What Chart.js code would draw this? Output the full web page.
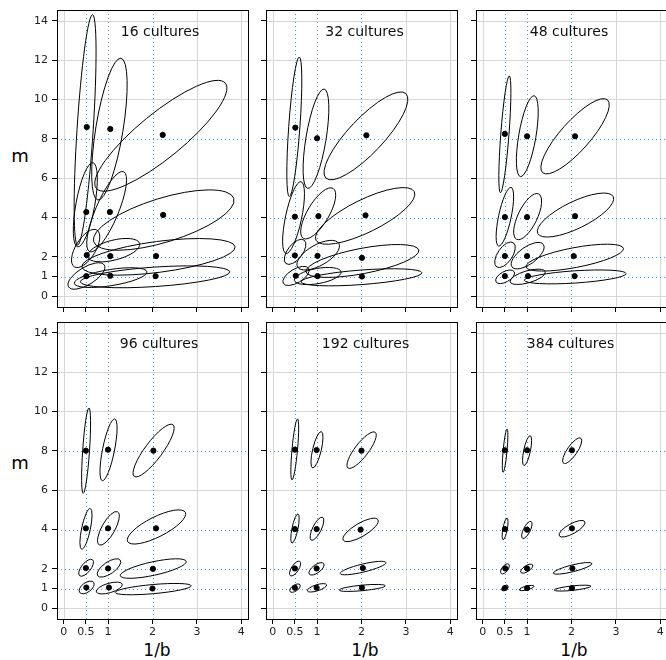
<!DOCTYPE html>
<html>
<head>
<meta charset="utf-8">
<script src="https://cdn.jsdelivr.net/npm/chart.js@4.4.0/dist/chart.umd.min.js"></script>
<style>
body { margin: 0; background: #fff; width: 666px; height: 660px; overflow: hidden; position: relative; font-family: "DejaVu Sans", sans-serif; }
canvas { position: absolute; }
.lab { position: absolute; color: #000; transform: translate(-50%, -50%); white-space: nowrap; }
</style>
</head>
<body>
<div class="lab" style="left:20px;top:155px;font-size:18px">m</div>
<div class="lab" style="left:20px;top:462px;font-size:18px">m</div>
<div class="lab" style="left:157px;top:650px;font-size:17px">1/b</div>
<div class="lab" style="left:365px;top:650px;font-size:17px">1/b</div>
<div class="lab" style="left:574px;top:650px;font-size:17px">1/b</div>
<script>
const cultures = [16, 32, 48, 96, 192, 384];
const xTicks = [0, 0.5, 1, 2, 3, 4];
const yTicks = [0, 1, 2, 4, 6, 8, 10, 12, 14];
const trueInvB = [0.5, 1, 2];
const trueM = [1, 2, 4, 8];

// estimates, order: m=8 (1/b .5, 1, 2), m=4, m=2, m=1
const est16 = [[0.52, 8.6], [1.05, 8.5], [2.23, 8.2], [0.51, 4.28], [1.04, 4.28], [2.24, 4.13],
  [0.52, 2.09], [1.05, 2.04], [2.08, 2.04], [0.51, 1.02], [1.05, 1.04], [2.07, 1.02]];
const est32 = [[0.51, 8.57], [1.0, 8.03], [2.11, 8.18], [0.5, 4.04], [1.03, 4.07], [2.09, 4.11],
  [0.5, 2.07], [1.01, 2.05], [2.01, 1.95], [0.52, 1.04], [1.01, 1.02], [2.01, 1.0]];
const est48 = [[0.5, 8.25], [1.0, 8.13], [2.08, 8.13], [0.5, 4.02], [1.0, 4.02], [2.08, 4.07],
  [0.5, 2.04], [1.0, 2.04], [2.05, 2.04], [0.5, 1.02], [1.02, 1.02], [2.07, 1.02]];
const est96 = [[0.5, 8.01], [1.0, 8.06], [2.02, 8.01], [0.5, 4.06], [1.0, 4.06], [2.08, 4.06],
  [0.5, 2.04], [1.0, 2.02], [2.01, 2.0], [0.51, 1.05], [1.02, 1.05], [2.0, 1.0]];
const est192 = [[0.5, 8.06], [0.99, 8.04], [2.0, 8.01], [0.5, 4.02], [0.99, 4.02], [1.98, 3.99],
  [0.5, 2.02], [0.99, 2.02], [2.03, 2.04], [0.5, 1.04], [0.99, 1.04], [2.01, 1.04]];
const est384 = [[0.5, 8.03], [1.0, 8.03], [2.01, 8.03], [0.5, 4.02], [1.0, 3.99], [2.01, 4.06],
  [0.51, 2.02], [1.0, 2.02], [2.02, 2.02], [0.5, 1.02], [1.0, 1.02], [2.01, 1.02]];

// confidence ellipses: major axis tip 1 (x, m), tip 2 (x, m), minor/major ratio
const ell16 = [[0.65, 14.31, 0.315, 2.6, 0.07], [1.29, 12.1, 0.77, 4.89, 0.19], [3.64, 10.83, 0.735, 5.48, 0.27],
  [0.66, 6.79, 0.315, 2.51, 0.22], [1.35, 6.33, 0.585, 2.26, 0.26], [0.675, 2.77, 3.83, 4.97, 0.3],
  [0.75, 3.36, 0.24, 1.49, 0.46], [0.54, 2.0, 1.71, 2.68, 0.37], [0.41, 1.49, 3.86, 2.51, 0.2],
  [0.11, 0.475, 0.915, 1.58, 0.42], [0.24, 0.65, 1.875, 1.24, 0.22], [0.375, 0.73, 3.74, 1.24, 0.13]];
const ell32 = [[0.6, 12.16, 0.375, 5.06, 0.08], [1.16, 10.53, 0.79, 5.48, 0.2], [3.0, 10.3, 1.2, 6.0, 0.3],
  [0.64, 5.82, 0.3, 2.17, 0.22], [1.36, 5.48, 0.69, 2.94, 0.37], [0.975, 2.85, 3.19, 5.31, 0.3],
  [0.3, 1.66, 0.71, 2.85, 0.5], [0.56, 1.49, 1.49, 2.68, 0.44], [0.75, 1.24, 3.29, 2.34, 0.22],
  [0.24, 0.65, 0.81, 1.41, 0.47], [0.49, 0.81, 1.54, 1.24, 0.32], [0.64, 0.73, 3.36, 1.19, 0.12]];
const ell48 = [[0.6, 11.2, 0.4, 5.26, 0.07], [1.16, 10.19, 0.85, 6.08, 0.21], [2.81, 9.98, 1.35, 6.28, 0.3],
  [0.64, 5.53, 0.36, 2.55, 0.21], [1.26, 5.2, 0.765, 2.89, 0.38], [1.24, 3.19, 2.94, 5.06, 0.32],
  [0.315, 1.49, 0.69, 2.72, 0.5], [0.66, 1.49, 1.365, 2.63, 0.45], [0.975, 1.49, 3.17, 2.43, 0.2],
  [0.3, 0.73, 0.71, 1.24, 0.5], [0.62, 0.73, 1.41, 1.24, 0.33], [0.94, 0.81, 3.23, 1.15, 0.12]];
const ell96 = [[0.57, 10.18, 0.44, 5.84, 0.08], [1.15, 9.62, 0.87, 6.48, 0.19], [2.46, 9.33, 1.59, 6.7, 0.27],
  [0.6, 5.07, 0.405, 3.0, 0.21], [1.215, 4.9, 0.8, 3.22, 0.35], [1.44, 3.39, 2.74, 4.87, 0.31],
  [0.36, 1.65, 0.65, 2.46, 0.45], [0.765, 1.65, 1.275, 2.44, 0.43], [1.275, 1.65, 2.76, 2.38, 0.2],
  [0.36, 0.8, 0.675, 1.31, 0.55], [0.735, 0.83, 1.32, 1.22, 0.35], [1.16, 0.8, 2.87, 1.14, 0.12]];
const ell192 = [[0.56, 9.62, 0.435, 6.52, 0.09], [1.095, 8.98, 0.9, 7.13, 0.23], [2.31, 8.94, 1.695, 7.13, 0.3],
  [0.57, 4.79, 0.435, 3.31, 0.2], [1.125, 4.62, 0.87, 3.46, 0.34], [1.59, 3.46, 2.37, 4.5, 0.33],
  [0.4, 1.65, 0.61, 2.38, 0.42], [0.825, 1.73, 1.15, 2.27, 0.45], [1.52, 1.76, 2.55, 2.32, 0.17],
  [0.39, 0.85, 0.615, 1.19, 0.5], [0.78, 0.88, 1.215, 1.19, 0.3], [1.5, 0.92, 2.535, 1.14, 0.12]];
const ell384 = [[0.55, 9.11, 0.46, 6.91, 0.09], [1.07, 8.77, 0.93, 7.25, 0.22], [2.21, 8.64, 1.82, 7.37, 0.33],
  [0.55, 4.58, 0.46, 3.48, 0.2], [1.09, 4.41, 0.9, 3.55, 0.36], [1.725, 3.68, 2.3, 4.4, 0.34],
  [0.42, 1.76, 0.585, 2.24, 0.5], [0.86, 1.82, 1.125, 2.2, 0.43], [1.59, 1.78, 2.46, 2.27, 0.17],
  [0.43, 0.92, 0.57, 1.14, 0.55], [0.825, 0.93, 1.155, 1.12, 0.25], [1.61, 0.92, 2.44, 1.12, 0.12]];

const estimates = [est16, est32, est48, est96, est192, est384];
const ellipses = [ell16, ell32, ell48, ell96, ell192, ell384];

// layout
const colLeft = [57, 266, 476];
const rowTop = [10, 322];
const panelW = 191, panelH = 297;
const titleX = [160, 364.5, 569, 159, 365.5, 570.5];

const panelPlugin = {
  id: "panel",
  beforeDatasetsDraw(chart, args, opts) {
    const ctx = chart.ctx, a = chart.chartArea;
    const xs = chart.scales.x, ys = chart.scales.y;
    ctx.save();
    ctx.beginPath();
    ctx.rect(a.left, a.top, a.right - a.left, a.bottom - a.top);
    ctx.clip();
    // grey grid, skipped where a reference line sits
    ctx.strokeStyle = "#d6d6d6";
    ctx.lineWidth = 1;
    [0, 1, 2, 3, 4].filter(v => !trueInvB.includes(v)).forEach(v => {
      const p = Math.round(xs.getPixelForValue(v)) + 0.5;
      ctx.beginPath(); ctx.moveTo(p, a.top); ctx.lineTo(p, a.bottom); ctx.stroke();
    });
    [0, 2, 4, 6, 8, 10, 12, 14].filter(v => !trueM.includes(v)).forEach(v => {
      const p = Math.round(ys.getPixelForValue(v)) + 0.5;
      ctx.beginPath(); ctx.moveTo(a.left, p); ctx.lineTo(a.right, p); ctx.stroke();
    });
    // reference lines at the true values
    ctx.strokeStyle = "#3d9bff";
    ctx.setLineDash([1, 3]);
    trueInvB.forEach(v => {
      const p = Math.round(xs.getPixelForValue(v)) + 0.5;
      ctx.beginPath(); ctx.moveTo(p, Math.round(a.top)); ctx.lineTo(p, a.bottom); ctx.stroke();
    });
    trueM.forEach(v => {
      const p = Math.round(ys.getPixelForValue(v)) + 0.5;
      ctx.beginPath(); ctx.moveTo(Math.round(a.left), p); ctx.lineTo(a.right, p); ctx.stroke();
    });
    ctx.setLineDash([]);
    // ellipses
    ctx.strokeStyle = "#000";
    ctx.lineWidth = 1;
    opts.ell.forEach(e => {
      const x1 = xs.getPixelForValue(e[0]), y1 = ys.getPixelForValue(e[1]);
      const x2 = xs.getPixelForValue(e[2]), y2 = ys.getPixelForValue(e[3]);
      const cx = (x1 + x2) / 2, cy = (y1 + y2) / 2;
      const ra = Math.hypot(x2 - x1, y2 - y1) / 2;
      const ang = Math.atan2(y2 - y1, x2 - x1);
      ctx.beginPath();
      ctx.ellipse(cx, cy, ra, ra * e[4], ang, 0, Math.PI * 2);
      ctx.stroke();
    });
    ctx.restore();
  },
  afterDatasetsDraw(chart, args, opts) {
    const ctx = chart.ctx, a = chart.chartArea;
    ctx.save();
    ctx.strokeStyle = "#000";
    ctx.lineWidth = 1;
    ctx.strokeRect(Math.round(a.left) + 0.5, Math.round(a.top) + 0.5, Math.round(a.right - a.left), Math.round(a.bottom - a.top));
    ctx.fillStyle = "#111";
    ctx.font = "14px 'DejaVu Sans'";
    ctx.textAlign = "center";
    ctx.textBaseline = "middle";
    ctx.fillText(opts.title, opts.tx, a.top + 22);
    ctx.restore();
  }
};

cultures.forEach((n, i) => {
  const col = i % 3, row = Math.floor(i / 3);
  const Lm = col === 0 ? 57 : 12, Tm = 4, Rm = 4, Bm = row === 1 ? 40 : 10;
  const cv = document.createElement("canvas");
  const left = colLeft[col] - Lm, top = rowTop[row] - Tm;
  cv.width = Lm + panelW + Rm;
  cv.height = Tm + panelH + Bm;
  cv.style.left = left + "px";
  cv.style.top = top + "px";
  document.body.appendChild(cv);

  new Chart(cv, {
    type: "scatter",
    data: {
      datasets: [{
        data: estimates[i].map(p => ({ x: p[0], y: p[1] })),
        backgroundColor: "#000",
        borderColor: "#000",
        pointRadius: 2.6,
        pointHoverRadius: 2.6
      }]
    },
    options: {
      responsive: false,
      animation: false,
      devicePixelRatio: 1,
      layout: { padding: { top: Tm, right: Rm, left: 0, bottom: 0 } },
      plugins: {
        legend: { display: false },
        tooltip: { enabled: false },
        panel: { ell: ellipses[i], title: n + " cultures", tx: titleX[i] - left }
      },
      scales: {
        x: {
          type: "linear", min: -0.15, max: 4.15,
          afterBuildTicks: s => { s.ticks = xTicks.map(v => ({ value: v })); },
          afterFit: s => { s.height = Bm; s.paddingLeft = 0; s.paddingRight = 0; },
          ticks: {
            autoSkip: false, maxRotation: 0, padding: 2,
            color: "#222", font: { family: "DejaVu Sans", size: 11 },
            callback: v => row === 1 ? String(v) : ""
          },
          grid: { drawOnChartArea: false, drawTicks: true, tickLength: 5, tickColor: "#000", tickWidth: 1 },
          border: { display: false }
        },
        y: {
          type: "linear", min: -0.55, max: 14.55,
          afterBuildTicks: s => { s.ticks = yTicks.map(v => ({ value: v })); },
          afterFit: s => { s.width = Lm; s.paddingTop = 0; s.paddingBottom = 0; },
          ticks: {
            autoSkip: false, padding: 4,
            color: "#222", font: { family: "DejaVu Sans", size: 11 },
            callback: v => col === 0 ? String(v) : ""
          },
          grid: { drawOnChartArea: false, drawTicks: true, tickLength: 5, tickColor: "#000", tickWidth: 1 },
          border: { display: false }
        }
      }
    },
    plugins: [panelPlugin]
  });
});
</script>
</body>
</html>
